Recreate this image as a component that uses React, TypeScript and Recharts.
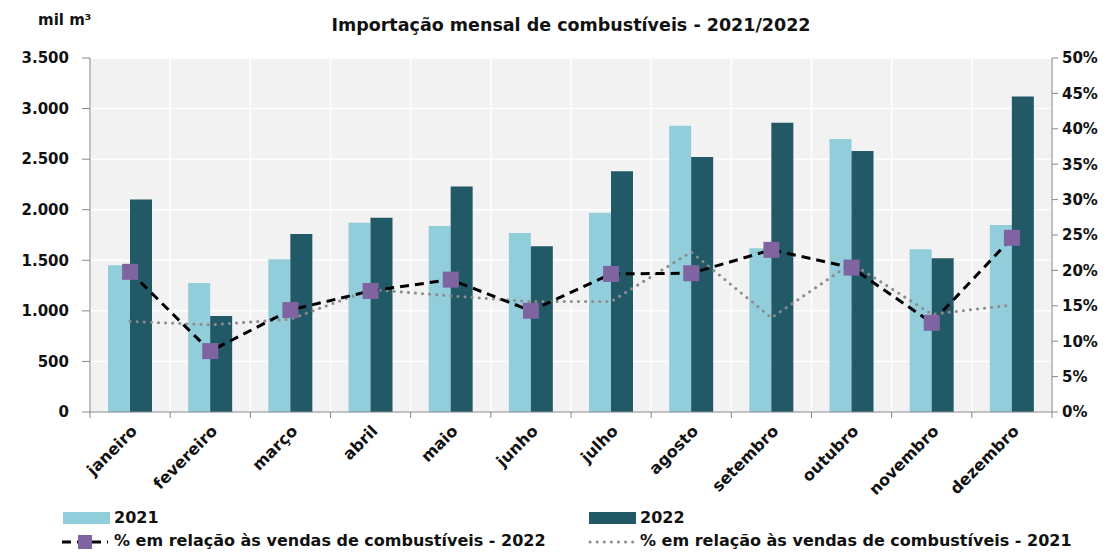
import React from 'react';
import {
  ComposedChart,
  Bar,
  Line,
  XAxis,
  YAxis,
  CartesianGrid
} from 'recharts';

const months = ['janeiro', 'fevereiro', 'março', 'abril', 'maio', 'junho', 'julho', 'agosto', 'setembro', 'outubro', 'novembro', 'dezembro'];
const import2021 = [1450, 1275, 1510, 1870, 1840, 1770, 1970, 2830, 1620, 2700, 1610, 1850];
const import2022 = [2100, 950, 1760, 1920, 2230, 1640, 2380, 2520, 2860, 2580, 1520, 3120];
const share2022 = [19.8, 8.6, 14.4, 17.1, 18.7, 14.3, 19.5, 19.6, 22.9, 20.4, 12.6, 24.6];
const share2021 = [12.8, 12.3, 13.1, 17.3, 16.4, 15.6, 15.6, 22.6, 13.3, 21.0, 13.8, 15.1];
const leftTicks = [0, 500, 1000, 1500, 2000, 2500, 3000, 3500];
const rightTicks = [0, 5, 10, 15, 20, 25, 30, 35, 40, 45, 50];
const boundaryTicks = [0, 1, 2, 3, 4, 5, 6, 7, 8, 9, 10, 11, 12];

const data = months.map((m, i) => ({
  month: m,
  idx: i + 0.5,
  y2021: import2021[i],
  y2022: import2022[i],
  p2022: share2022[i],
  p2021: share2021[i]
}));

const FONT = '"DejaVu Sans", sans-serif';
const LIGHT = '#92CDDC';
const DARK = '#215967';
const PURPLE = '#8064A2';
const AXIS = '#868686';

const fmtThousands = (v: number) => String(v).replace(/\B(?=(\d{3})+(?!\d))/g, '.');

const MonthTick = (props: any) => {
  const { x, y, payload } = props;
  const tx = x + 8;
  const ty = y + 11;
  return (
    <text
      x={tx}
      y={ty}
      transform={`rotate(-45 ${tx} ${ty})`}
      textAnchor="end"
      fontFamily={FONT}
      fontWeight={700}
      fontSize={16}
      fill="#111"
    >
      {payload.value}
    </text>
  );
};

const SquareDot = (props: any) => {
  const { cx, cy } = props;
  if (cx == null || cy == null) return null;
  return <rect x={cx - 8} y={cy - 8} width={16} height={16} fill={PURPLE} />;
};

const legendText: React.CSSProperties = {
  position: 'absolute',
  fontFamily: FONT,
  fontWeight: 700,
  fontSize: 16,
  color: '#111',
  lineHeight: '20px',
  whiteSpace: 'nowrap'
};

const tickStyle = { fontFamily: FONT, fontWeight: 700, fontSize: 15, fill: '#111' };

export default function App() {
  return (
    <div style={{ position: 'absolute', left: 0, top: 0, width: 1112, height: 553, background: '#fff' }}>
      <div style={{ ...legendText, left: 38, top: 10, fontSize: 15 }}>mil m³</div>
      <div style={{ ...legendText, left: 90, width: 962, top: 15, textAlign: 'center', fontSize: 17.5 }}>
        Importação mensal de combustíveis - 2021/2022
      </div>

      <ComposedChart
        width={1112}
        height={500}
        data={data}
        margin={{ top: 58, right: 0, left: 0, bottom: 0 }}
        barGap={0}
        style={{ position: 'absolute', left: 0, top: 0 }}
      >
        <CartesianGrid
          xAxisId="b"
          yAxisId="left"
          fill="#F2F2F2"
          stroke="#FFFFFF"
          strokeWidth={1.5}
        />
        <XAxis
          xAxisId="b"
          type="number"
          dataKey="idx"
          domain={[0, 12]}
          ticks={boundaryTicks}
          height={1}
          stroke={AXIS}
          tickFormatter={() => ''}
          tickSize={6}
        />
        <XAxis
          xAxisId="m"
          dataKey="month"
          height={87}
          axisLine={false}
          tickLine={false}
          interval={0}
          tick={<MonthTick />}
        />
        <YAxis
          yAxisId="left"
          width={90}
          domain={[0, 3500]}
          ticks={leftTicks}
          stroke={AXIS}
          tickSize={8}
          tickMargin={13}
          tickFormatter={fmtThousands}
          tick={tickStyle}
        />
        <YAxis
          yAxisId="pct"
          orientation="right"
          width={60}
          domain={[0, 50]}
          ticks={rightTicks}
          stroke={AXIS}
          tickSize={6}
          tickMargin={4}
          tickFormatter={(v: number) => `${v}%`}
          tick={tickStyle}
        />
        <Bar xAxisId="m" yAxisId="left" dataKey="y2021" fill={LIGHT} barSize={22} isAnimationActive={false} />
        <Bar xAxisId="m" yAxisId="left" dataKey="y2022" fill={DARK} barSize={22} isAnimationActive={false} />
        <Line
          xAxisId="m"
          yAxisId="pct"
          dataKey="p2021"
          stroke="#8C8C8C"
          strokeWidth={3}
          strokeDasharray="0.1 7"
          strokeLinecap="round"
          dot={false}
          isAnimationActive={false}
        />
        <Line
          xAxisId="m"
          yAxisId="pct"
          dataKey="p2022"
          stroke="#000"
          strokeWidth={3}
          strokeDasharray="9 6"
          dot={<SquareDot />}
          isAnimationActive={false}
        />
      </ComposedChart>

      <svg width={50} height={20} style={{ position: 'absolute', left: 62, top: 509 }}>
        <rect x={1} y={3} width={47} height={12} fill={LIGHT} />
      </svg>
      <div style={{ ...legendText, left: 114, top: 508 }}>2021</div>
      <svg width={50} height={20} style={{ position: 'absolute', left: 588, top: 509 }}>
        <rect x={1} y={3} width={47} height={12} fill={DARK} />
      </svg>
      <div style={{ ...legendText, left: 640, top: 508 }}>2022</div>

      <svg width={54} height={20} style={{ position: 'absolute', left: 58, top: 532 }}>
        <line x1={4} y1={10} x2={50} y2={10} stroke="#000" strokeWidth={3} strokeDasharray="9 6" />
        <rect x={20} y={3} width={14} height={14} fill={PURPLE} />
      </svg>
      <div style={{ ...legendText, left: 114, top: 531 }}>% em relação às vendas de combustíveis - 2022</div>
      <svg width={54} height={20} style={{ position: 'absolute', left: 586, top: 532 }}>
        <line x1={4} y1={10} x2={50} y2={10} stroke="#8C8C8C" strokeWidth={3} strokeDasharray="0.1 7" strokeLinecap="round" />
      </svg>
      <div style={{ ...legendText, left: 640, top: 531 }}>% em relação às vendas de combustíveis - 2021</div>
    </div>
  );
}
